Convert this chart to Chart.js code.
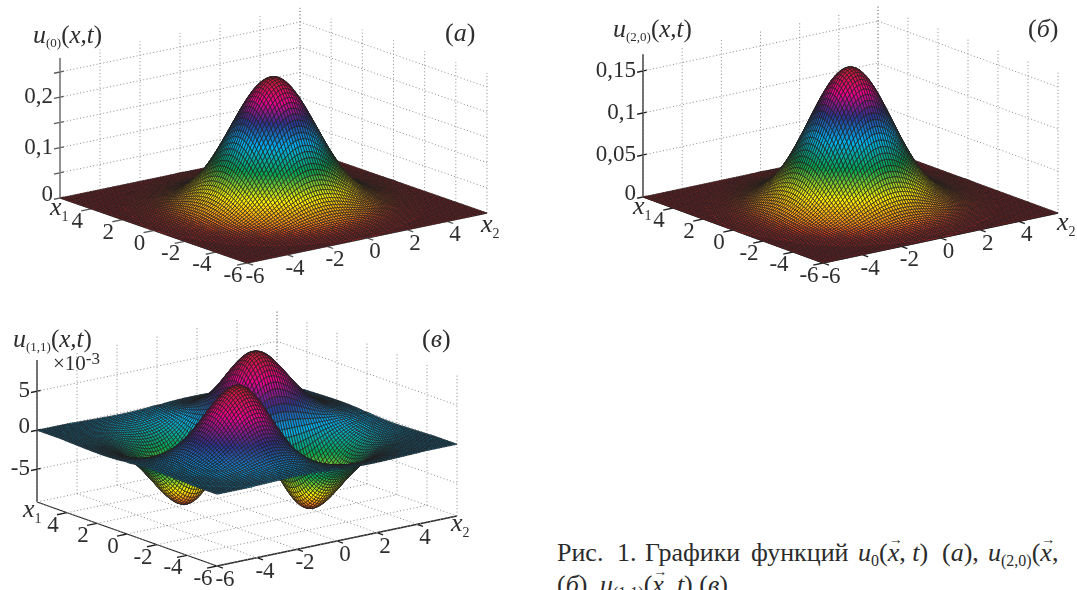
<!DOCTYPE html>
<html lang="ru"><head><meta charset="utf-8">
<style>
html,body{margin:0;padding:0;background:#fff;width:1077px;height:590px;overflow:hidden}
canvas{position:absolute;display:block}
.c{position:absolute;white-space:nowrap;font:26px/28px "Liberation Serif",serif;color:#2b2b2b}
.c i{font-style:italic}.c sub{font-size:16px;line-height:0;font-style:normal;vertical-align:-5px}
.v{position:relative;display:inline-block}.v b{position:absolute;left:1px;top:-7px;font:normal 14px "Liberation Serif",serif}
</style>
<script src="https://cdn.jsdelivr.net/npm/chart.js@4/dist/chart.umd.min.js"></script>
</head><body>
<canvas id="pa" width="530" height="295" style="left:0;top:0"></canvas>
<canvas id="pb" width="547" height="295" style="left:530px;top:0"></canvas>
<canvas id="pc" width="530" height="295" style="left:0;top:295px"></canvas>
<span class="c" style="left:557px;top:539px">Рис.</span>
<span class="c" style="left:617px;top:539px">1.</span>
<span class="c" style="left:645px;top:539px">Графики</span>
<span class="c" style="left:751px;top:539px">функций</span>
<span class="c" style="left:858px;top:539px"><i>u</i><sub>0</sub>(<span class="v"><i>x</i><b>→</b></span>, <i>t</i>)</span>
<span class="c" style="left:942px;top:539px">(<i>а</i>),</span>
<span class="c" style="left:988px;top:539px"><i>u</i><sub>(2,0)</sub>(<span class="v"><i>x</i><b>→</b></span>,</span>
<span class="c" style="left:557px;top:571px">(<i>б</i>),</span>
<span class="c" style="left:600px;top:571px"><i>u</i><sub>(1,1)</sub>(<span class="v"><i>x</i><b>→</b></span>, <i>t</i>) (<i>в</i>).</span>
<script>
// mesh: x1, x2 = index * MESH_STEP; tables hold one octant (row |i|, column |j|-|i|); omitted tail = 0
const MESH_STEP = 0.125, MESH_N = 48;
const axisTicks = [-6,-4,-2,0,2,4,6];
const axisLabels = ["-6","-4","-2","0","2","4"];
const zTicksA = [0,0.05,0.1,0.15,0.2,0.25], zLabelsA = {"0":"0","0.1":"0,1","0.2":"0,2"};
const zTicksB = [0,0.05,0.1,0.15], zLabelsB = {"0":"0","0.05":"0,05","0.1":"0,1","0.15":"0,15"};
const zTicksC = [-5,0,5], zLabelsC = {"-5":"-5","0":"0","5":"5"};
const peakA = 0.255, peakB = 0.164;

const hillShape = [ // u(0) and u(2,0) share this hill: thousandths of the peak height
[1000,997,989,976,958,935,907,876,841,803,763,721,678,633,589,544,501,458,417,377,339,304,270,239,211,185,161,140,120,103,88,75,63,53,44,36,30,25,20,16,13,11,8,7,5,4,3,3,2],
[994,986,973,955,932,904,873,838,801,761,719,676,631,587,542,499,457,416,376,338,303,269,238,210,184,161,140,120,103,88,75,63,53,44,36,30,25,20,16,13,11,8,7,5,4,3,3,2],
[978,965,947,925,897,866,832,794,755,713,671,626,583,538,495,453,412,373,335,301,267,236,209,183,159,138,119,102,87,74,62,52,44,36,30,25,20,16,13,11,8,7,5,4,3,3],
[953,935,913,885,855,821,784,745,704,662,618,575,531,489,447,407,368,331,297,264,233,206,181,157,137,117,101,86,73,61,52,43,35,29,24,20,16,13,11,8,7,5,4,3,3],
[918,896,869,839,806,769,731,691,650,606,564,521,480,439,399,361,325,291,259,229,202,177,154,134,115,99,84,72,60,51,42,34,29,24,19,15,12,11,8,7,5,4,3,3],
[874,848,819,786,751,713,674,634,592,551,509,468,428,390,352,317,284,252,223,197,173,151,131,112,96,82,70,59,50,41,34,28,23,19,15,12,10,7,7,5,4,3,3],
[823,795,763,728,692,654,615,574,534,493,454,415,378,342,307,276,245,217,191,168,146,127,109,93,80,68,57,48,40,33,27,23,18,15,12,10,7,6,5,4,3],
[767,737,703,668,632,594,555,516,477,439,401,365,330,297,266,237,209,185,162,141,123,105,90,77,66,55,46,39,32,26,22,18,14,11,10,7,6,4,4,3],
[707,675,642,606,570,532,495,457,421,385,351,317,285,256,227,201,177,156,135,118,101,87,74,63,53,45,37,30,25,21,17,13,11,9,7,6,4,3,3],
[645,613,579,544,508,473,437,402,368,335,303,272,244,217,192,169,149,129,112,96,83,71,60,51,43,35,29,24,20,16,13,10,9,6,6,4,3,3],
[582,550,517,483,449,415,382,350,318,288,259,232,206,182,161,141,123,107,92,79,67,57,48,40,34,27,23,19,15,12,10,8,6,5,4,3],
[520,489,456,425,392,361,330,301,272,244,219,195,172,152,133,116,101,87,74,63,54,45,38,32,26,22,18,14,12,9,8,6,5,4,3],
[460,429,399,369,340,311,283,256,230,206,183,162,143,125,109,95,81,70,60,51,42,36,30,24,20,17,14,11,9,7,5,5,3,3],
[401,373,344,317,290,264,239,215,192,171,151,134,117,102,89,76,65,56,47,40,33,28,23,19,16,13,10,8,7,5,4,3],
[347,320,295,270,246,222,200,178,159,140,124,109,95,82,71,61,52,44,37,31,26,21,18,15,12,9,8,6,5,4,3],
[296,273,249,227,205,184,165,147,130,115,101,88,76,65,56,48,41,34,29,24,20,16,14,11,9,7,6,4,3],
[251,229,209,189,170,152,135,120,106,93,81,70,60,52,44,38,32,27,22,18,15,13,10,8,7,5,4,3],
[210,191,173,155,139,124,109,97,85,74,64,55,47,41,34,29,24,20,16,14,11,9,7,6,5,4,3],
[174,157,141,127,113,100,88,77,67,58,50,43,37,31,26,22,18,15,13,10,8,7,5,5,3,3],
[142,128,115,102,90,80,70,61,52,45,39,33,28,24,20,17,14,11,9,8,6,5,4,3],
[115,103,92,82,72,63,55,47,41,35,30,25,21,18,15,12,10,8,7,5,4,3],
[92,82,73,64,56,49,43,36,31,27,23,19,16,13,11,9,8,6,5,4,3],
[73,65,57,50,43,38,32,28,24,20,17,14,12,10,8,7,5,4,3],
[57,50,44,38,33,29,25,21,18,15,13,11,9,7,6,5,4,3],
[45,39,34,30,25,22,19,16,13,11,9,8,6,5,4,3,3],
[34,30,26,22,19,16,14,12,10,8,7,5,5,4,3],
[26,23,19,17,14,12,10,9,7,6,5,4,3,3],
[20,17,14,12,10,9,7,6,5,4,4,3],
[14,12,11,9,8,6,5,4,4,3,3],
[11,9,8,6,5,5,4,3,3],
[8,7,6,5,4,3,3],
[6,5,4,3,3],
[4,3,3],
[3]];
const surfaceC = [ // u(1,1), units of 0.01×10^-3; sign follows the quadrant
[],
[11,23,34,44,54,63,72,79,85,91,95,98,100,101,100,99,98,95,92,88,84,79,74,69,64,59,54,49,44,39,35,31,27,24,21,18,16,13,11,10,8,7,6,5],
[45,67,88,108,126,142,157,169,180,188,194,198,200,199,197,194,188,182,174,166,157,147,137,127,117,107,97,87,78,70,62,55,48,42,36,31,27,23,19,16,14,11,10,8,6,5],
[99,130,159,186,211,232,251,266,278,287,293,296,295,292,287,279,270,258,246,232,218,203,188,173,158,143,130,116,103,92,81,71,62,54,46,40,34,29,24,20,17,14,12,9,8,6],
[171,209,244,276,305,329,349,365,377,384,388,388,383,376,366,354,339,322,304,286,266,246,227,207,188,170,152,135,121,106,93,81,70,60,52,44,38,32,27,22,18,15,12,10,8],
[256,299,338,373,403,427,447,461,470,475,474,469,461,448,432,415,394,372,350,326,301,278,254,230,208,186,165,147,130,114,99,86,74,64,54,46,39,33,27,23,19,15,13,10],
[349,395,435,470,499,522,538,549,554,554,548,538,523,505,484,460,435,408,380,352,324,296,269,242,217,194,172,151,133,115,101,86,74,63,54,45,38,32,27,22,18,15,12],
[447,492,532,564,590,609,621,627,626,619,608,592,571,547,520,492,462,430,398,367,335,304,275,246,219,195,171,151,131,114,98,84,71,61,51,43,36,30,25,20,17,13],
[542,586,622,650,671,684,691,690,682,670,652,630,603,574,542,509,474,439,403,369,335,303,271,241,215,189,166,144,125,108,92,78,67,56,47,39,33,27,22,18,15],
[633,672,702,725,739,746,746,737,724,705,680,652,620,586,550,512,475,436,399,362,327,293,261,232,204,179,156,135,116,100,85,73,60,51,42,36,29,24,20,16],
[713,746,770,785,792,791,783,769,748,722,692,658,622,584,544,503,463,423,384,347,311,277,246,217,190,166,144,123,106,90,77,65,54,45,38,31,25,21,17],
[780,805,820,828,827,818,804,782,754,723,688,650,610,568,526,484,442,401,363,325,289,257,227,199,173,150,129,111,94,80,68,57,47,39,33,27,22,18],
[830,846,854,853,844,829,807,779,746,709,670,629,586,543,500,457,415,374,335,299,265,233,205,179,155,133,114,97,83,70,59,49,41,34,27,23,18],
[864,872,871,861,846,823,795,761,724,684,642,598,554,510,466,423,382,342,305,271,238,209,182,158,136,117,99,85,71,60,50,42,34,28,23,18],
[879,879,869,854,830,802,768,730,690,648,604,559,514,470,426,385,345,307,273,240,211,184,160,137,118,100,85,72,60,50,42,35,28,23,19],
[878,868,853,830,801,768,730,690,648,603,558,514,470,426,385,345,307,273,240,211,184,159,137,118,100,85,72,60,50,42,35,28,23,19],
[859,844,821,793,760,722,682,641,597,552,508,465,422,381,341,304,270,238,209,182,158,135,116,99,84,71,60,49,41,34,28,23,18],
[829,806,779,746,709,670,630,586,543,500,457,414,374,335,298,265,233,205,179,155,133,114,97,83,70,59,49,41,34,27,23,18],
[784,757,725,689,651,612,570,527,486,444,403,364,326,290,258,227,199,174,151,129,111,94,81,68,57,47,40,33,27,22,18],
[731,700,666,629,591,551,509,469,429,389,351,315,280,249,219,193,168,146,125,107,91,78,66,55,46,38,32,26,21,17],
[671,638,603,566,527,488,449,410,372,337,301,268,239,210,184,161,139,120,103,87,75,63,53,44,37,30,25,20,16],
[607,573,538,501,464,427,390,354,320,287,255,227,200,175,153,132,114,98,83,71,60,50,42,35,29,23,19,15],
[542,509,474,438,404,369,335,302,271,241,214,189,166,145,125,108,92,78,67,56,47,39,33,27,22,18,15],
[478,445,412,379,346,314,284,254,226,201,177,156,135,118,101,87,74,63,53,45,37,31,26,21,17,14],
[415,384,353,323,293,265,237,211,188,165,145,126,110,94,81,69,59,49,42,34,29,24,19,16,13],
[355,327,298,271,245,219,195,174,153,134,117,101,87,75,64,54,46,38,32,27,22,18,15,12],
[301,275,249,225,202,180,160,141,124,108,93,80,69,58,50,42,35,29,25,20,17,14,11],
[251,228,206,184,164,146,128,113,98,85,73,63,53,45,38,32,27,22,19,15,13,10],
[207,187,167,149,132,116,102,89,77,67,57,48,41,35,29,24,20,17,14,11,9],
[169,151,134,120,105,92,80,70,60,52,44,37,31,26,22,18,15,12,10,8],
[135,120,107,94,83,72,63,54,46,39,33,28,24,20,16,14,11,9,7],
[107,95,84,74,64,56,48,41,35,30,25,21,17,15,12,10,8,6],
[85,75,66,57,50,43,37,31,27,22,19,16,13,11,9,7,6],
[66,58,50,44,37,32,27,23,20,16,14,11,9,8,6,5],
[51,44,38,33,28,24,21,17,15,12,10,8,7,6],
[38,33,29,25,21,18,15,13,10,9,7,6,5],
[29,25,21,18,15,13,11,9,8,6,5],
[21,18,16,13,11,9,8,6,5],
[16,13,11,10,8,7,6,5],
[11,10,8,7,6,5],
[8,7,6,5],
[6,5]];

// colormap stops (hsv as printed in CMYK)
const COLORMAP = [[237,28,36],[255,242,0],[0,166,81],[0,174,239],[46,49,146],[236,0,140],[200,30,50]];
const BAND_LEVEL = [0,0.06,0.19,0.37,0.55,0.71,0.85,1];
const BAND_HUE   = [0,0.083,0.167,0.333,0.5,0.667,0.833,1];
function bandHue(f){
  for(let k=1;k<BAND_LEVEL.length;k++) if(f<=BAND_LEVEL[k])
    return BAND_HUE[k-1]+(BAND_HUE[k]-BAND_HUE[k-1])*(f-BAND_LEVEL[k-1])/(BAND_LEVEL[k]-BAND_LEVEL[k-1]);
  return 1;
}
function colorOf(f){
  f=Math.max(0,Math.min(1,f))*6; const k=Math.min(5,Math.floor(f)), t=f-k, a=COLORMAP[k], b=COLORMAP[k+1];
  return `rgb(${a.map((v,n)=>Math.round(v+(b[n]-v)*t)).join(',')})`;
}
const FONT='"Liberation Serif",serif', INK='#2e2e2e';

const panels = [
 {id:'pa',w:530,h:295,table:hillShape,unit:peakA/1000,signed:false,clim:[0,peakA],bands:true,
  left:[60,198],front:[247,263],right:[487,213],k:504,zMin:0,zMax:0.278,axisColor:'#5a5a5a',
  zTicks:zTicksA,zLabels:zLabelsA,floorGrid:false,
  title:{x:33,y:43,sub:'(0)'},tag:{text:'а',x:445,y:41},x1Off:[-10,17],x2Off:[-6,19]},
 {id:'pb',w:547,h:295,table:hillShape,unit:peakB/1000,signed:false,clim:[0,peakB],bands:true,
  left:[113,197],front:[293,263],right:[528,213],k:840,zMin:0,zMax:0.17,axisColor:'#222',
  zTicks:zTicksB,zLabels:zLabelsB,floorGrid:false,
  title:{x:83,y:37,sub:'(2,0)'},tag:{text:'б',x:498,y:37},x1Off:[-10,17],x2Off:[-1,17]},
 {id:'pc',w:530,h:295,table:surfaceC,unit:0.01,signed:true,clim:[-9.2,8.8],bands:false,
  left:[37,207],front:[217,271],right:[457,221],k:7.8,zMin:-9.2,zMax:9,axisColor:'#222',
  zTicks:zTicksC,zLabels:zLabelsC,floorGrid:true,
  title:{x:13,y:52,sub:'(1,1)'},tag:{text:'в',x:422,y:52},x1Off:[-14,15],x2Off:[-6,15],exp:true}
];

function makePanel(p){
  const project=(x1,x2,z)=>{
    const u=(x1+6)/12, v=(x2+6)/12;
    return {x:p.front[0]+u*(p.left[0]-p.front[0])+v*(p.right[0]-p.front[0]),
            y:p.front[1]+u*(p.left[1]-p.front[1])+v*(p.right[1]-p.front[1])-(z-p.zMin)*p.k};
  };
  const seg=(arr,a,b)=>{arr.push(project(...a),project(...b),{x:null,y:null});};
  const grid=[],axes=[];
  for(const t of axisTicks){
    seg(grid,[6,t,p.zMin],[6,t,p.zMax]); seg(grid,[t,6,p.zMin],[t,6,p.zMax]);
    if(p.floorGrid){seg(grid,[t,-6,p.zMin],[t,6,p.zMin]); seg(grid,[-6,t,p.zMin],[6,t,p.zMin]);}
    if(t<6){seg(axes,[t,-6,p.zMin],[t,-6.5,p.zMin]); seg(axes,[-6,t,p.zMin],[-6.4,t,p.zMin]);}
  }
  for(const z of p.zTicks){
    seg(grid,[6,-6,z],[6,6,z]); seg(grid,[6,6,z],[-6,6,z]);
    seg(axes,[6,-6.3,z],[6,-5.8,z]);
  }
  seg(axes,[6,-6,p.zMin],[6,-6,p.zMax]);
  seg(axes,[6,-6,p.zMin],[-6,-6,p.zMin]);
  seg(axes,[-6,-6,p.zMin],[-6,6,p.zMin]);

  const mesh=[],zs=[];
  for(let i=-MESH_N;i<=MESH_N;i++)for(let j=-MESH_N;j<=MESH_N;j++){
    const a=Math.min(Math.abs(i),Math.abs(j)), b=Math.max(Math.abs(i),Math.abs(j));
    let raw=(p.table[a]&&p.table[a][b-a])||0;
    if(p.signed&&i*j<0) raw=-raw;
    const z=raw*p.unit; zs.push(z);
    mesh.push(project(i*MESH_STEP,j*MESH_STEP,z));
  }
  const surfacePlugin={id:'surface',afterDatasetsDraw(chart){
    const ctx=chart.ctx, pts=chart.getDatasetMeta(2).data, n=2*MESH_N+1, X=chart.scales.x, Y=chart.scales.y;
    ctx.save(); ctx.lineWidth=0.7; ctx.strokeStyle='#231f20'; ctx.lineJoin='round';
    for(let i=n-2;i>=0;i--)for(let j=n-2;j>=0;j--){
      const A=i*n+j,B=i*n+j+1,C=(i+1)*n+j+1,D=(i+1)*n+j;
      const mean=(zs[A]+zs[B]+zs[C]+zs[D])/4;
      ctx.beginPath();ctx.moveTo(pts[A].x,pts[A].y);ctx.lineTo(pts[B].x,pts[B].y);ctx.lineTo(pts[C].x,pts[C].y);ctx.lineTo(pts[D].x,pts[D].y);ctx.closePath();
      const f=(mean-p.clim[0])/(p.clim[1]-p.clim[0]);
      ctx.fillStyle=colorOf(p.bands?bandHue(f):f);
      ctx.fill();ctx.stroke();
    }
    // tick labels and captions, placed through the scales
    ctx.fillStyle=INK;
    const at=(q)=>({x:X.getPixelForValue(q.x),y:Y.getPixelForValue(q.y)});
    ctx.font='23px '+FONT; ctx.textAlign='center'; ctx.textBaseline='middle';
    axisLabels.forEach((s,n2)=>{
      const t=axisTicks[n2], q1=at(project(t,-6,p.zMin)), q2=at(project(-6,t,p.zMin));
      ctx.fillText(s,q1.x-14,q1.y+13); ctx.fillText(s,q2.x+8,q2.y+14);
    });
    ctx.textAlign='right';
    for(const z of p.zTicks){const s=p.zLabels[String(z)]; if(s===undefined)continue;
      const q=at(project(6,-6,z)); ctx.fillText(s,q.x-7,q.y-(z===0?3:0));}
    ctx.textAlign='left'; ctx.textBaseline='alphabetic';
    const rich=(x,y,parts)=>{for(const [s,f,dy] of parts){ctx.font=f+' '+FONT;ctx.fillText(s,x,y+(dy||0));x+=ctx.measureText(s).width;}};
    const L=at(project(6,-6,p.zMin)),R=at(project(-6,6,p.zMin));
    rich(L.x+p.x1Off[0],L.y+p.x1Off[1],[['x','italic 26px'],['1','14px',6]]);
    rich(R.x+p.x2Off[0],R.y+p.x2Off[1],[['x','italic 26px'],['2','14px',6]]);
    rich(p.title.x,p.title.y,[['u','italic 26px'],[p.title.sub,'13px',4],['(','25px'],['x,t','italic 25px'],[')','25px']]);
    rich(p.tag.x,p.tag.y,[['(','26px'],[p.tag.text,'italic 26px'],[')','26px']]);
    if(p.exp) rich(53,75,[['×10','21px'],['-3','17px',-6]]);
    ctx.restore();
  }};
  return new Chart(document.getElementById(p.id),{
    type:'scatter',
    data:{datasets:[
      {label:'grid',data:grid,showLine:true,pointRadius:0,borderColor:'#8a8a8a',borderWidth:1,borderDash:[1,2.4],spanGaps:false},
      {label:'axes',data:axes,showLine:true,pointRadius:0,borderColor:p.axisColor,borderWidth:1.3,spanGaps:false},
      {label:'surface',data:mesh,showLine:false,pointRadius:0}
    ]},
    options:{responsive:false,animation:false,events:[],layout:{padding:0},
      plugins:{legend:{display:false},tooltip:{enabled:false},title:{display:false}},
      scales:{x:{type:'linear',display:false,min:0,max:p.w},y:{type:'linear',display:false,min:0,max:p.h,reverse:true}}},
    plugins:[surfacePlugin]
  });
}
panels.forEach(makePanel);
</script>
</body></html>
